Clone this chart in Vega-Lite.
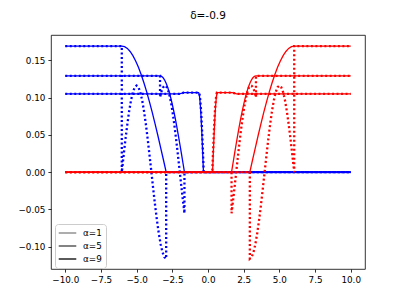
{
"$schema": "https://vega.github.io/schema/vega-lite/v6.json",
"width": 314, "height": 234,
"autosize": {"type": "none"},
"padding": {"left": 51, "top": 35, "right": 40, "bottom": 34},
"background": "white",
"title": {"text": "δ=-0.9", "font": "DejaVu Sans", "fontSize": 10.5, "fontWeight": "normal", "color": "black", "baseline": "alphabetic", "offset": 5.5},
"config": {
  "view": {"stroke": "black", "strokeWidth": 0.8},
  "axis": {"domain": false, "grid": false, "ticks": true, "tickColor": "black", "tickWidth": 0.8, "tickSize": 3.1, "labelFont": "DejaVu Sans", "labelFontSize": 8.8, "labelColor": "black", "labelPadding": 3, "title": null, "labelFlush": false, "labelOverlap": false}
},
"datasets": {
"bs": [
{"g":1,"i":0,"x":-10,"y":0.169},{"g":1,"i":1,"x":-6.04,"y":0.169},{"g":1,"i":2,"x":-5.846,"y":0.1682},{"g":1,"i":3,"x":-5.651,"y":0.1658},{"g":1,"i":4,"x":-5.457,"y":0.1617},{"g":1,"i":5,"x":-5.263,"y":0.1561},{"g":1,"i":6,"x":-5.068,"y":0.149},{"g":1,"i":7,"x":-4.874,"y":0.1405},{"g":1,"i":8,"x":-4.679,"y":0.1306},{"g":1,"i":9,"x":-4.485,"y":0.1195},{"g":1,"i":10,"x":-4.291,"y":0.1072},{"g":1,"i":11,"x":-4.096,"y":0.0939},{"g":1,"i":12,"x":-3.902,"y":0.0797},{"g":1,"i":13,"x":-3.708,"y":0.0647},{"g":1,"i":14,"x":-3.513,"y":0.0491},{"g":1,"i":15,"x":-3.319,"y":0.033},{"g":1,"i":16,"x":-3.124,"y":0.0166},{"g":1,"i":17,"x":-2.93,"y":0},{"g":1,"i":18,"x":10,"y":0},
{"g":2,"i":0,"x":-10,"y":0.129},{"g":2,"i":1,"x":-3.36,"y":0.129},{"g":2,"i":2,"x":-3.253,"y":0.1284},{"g":2,"i":3,"x":-3.146,"y":0.1265},{"g":2,"i":4,"x":-3.039,"y":0.1234},{"g":2,"i":5,"x":-2.933,"y":0.1192},{"g":2,"i":6,"x":-2.826,"y":0.1138},{"g":2,"i":7,"x":-2.719,"y":0.1073},{"g":2,"i":8,"x":-2.612,"y":0.0997},{"g":2,"i":9,"x":-2.505,"y":0.0912},{"g":2,"i":10,"x":-2.398,"y":0.0818},{"g":2,"i":11,"x":-2.291,"y":0.0717},{"g":2,"i":12,"x":-2.184,"y":0.0608},{"g":2,"i":13,"x":-2.078,"y":0.0494},{"g":2,"i":14,"x":-1.971,"y":0.0374},{"g":2,"i":15,"x":-1.864,"y":0.0252},{"g":2,"i":16,"x":-1.757,"y":0.0126},{"g":2,"i":17,"x":-1.65,"y":0},{"g":2,"i":18,"x":10,"y":0},
{"g":3,"i":0,"x":-10,"y":0.105},{"g":3,"i":1,"x":-2.0,"y":0.105},{"g":3,"i":2,"x":-1.7,"y":0.1065},{"g":3,"i":3,"x":-0.66,"y":0.1065},{"g":3,"i":4,"x":-0.6175,"y":0.1045},{"g":3,"i":5,"x":-0.575,"y":0.0984},{"g":3,"i":6,"x":-0.5325,"y":0.0886},{"g":3,"i":7,"x":-0.49,"y":0.0753},{"g":3,"i":8,"x":-0.4475,"y":0.0592},{"g":3,"i":9,"x":-0.405,"y":0.0408},{"g":3,"i":10,"x":-0.3625,"y":0.0208},{"g":3,"i":11,"x":-0.32,"y":0},{"g":3,"i":12,"x":10,"y":0}
],
"bd": [
{"g":1,"i":0,"x":-10,"y":0.169},{"g":1,"i":1,"x":-6.04,"y":0.169},{"g":1,"i":2,"x":-6.04,"y":0},{"g":1,"i":3,"x":-5.91,"y":0.0226},{"g":1,"i":4,"x":-5.781,"y":0.0444},{"g":1,"i":5,"x":-5.651,"y":0.0644},{"g":1,"i":6,"x":-5.522,"y":0.082},{"g":1,"i":7,"x":-5.392,"y":0.0965},{"g":1,"i":8,"x":-5.262,"y":0.1072},{"g":1,"i":9,"x":-5.133,"y":0.1138},{"g":1,"i":10,"x":-5.003,"y":0.116},{"g":1,"i":11,"x":-4.874,"y":0.1138},{"g":1,"i":12,"x":-4.744,"y":0.1072},{"g":1,"i":13,"x":-4.614,"y":0.0965},{"g":1,"i":14,"x":-4.485,"y":0.082},{"g":1,"i":15,"x":-4.355,"y":0.0644},{"g":1,"i":16,"x":-4.226,"y":0.0444},{"g":1,"i":17,"x":-4.096,"y":0.0226},{"g":1,"i":18,"x":-3.966,"y":0},{"g":1,"i":19,"x":-3.837,"y":-0.0226},{"g":1,"i":20,"x":-3.707,"y":-0.0444},{"g":1,"i":21,"x":-3.578,"y":-0.0644},{"g":1,"i":22,"x":-3.448,"y":-0.082},{"g":1,"i":23,"x":-3.318,"y":-0.0965},{"g":1,"i":24,"x":-3.189,"y":-0.1072},{"g":1,"i":25,"x":-3.059,"y":-0.1138},{"g":1,"i":26,"x":-2.93,"y":-0.116},{"g":1,"i":27,"x":-2.93,"y":0},{"g":1,"i":28,"x":10,"y":0},
{"g":2,"i":0,"x":-10,"y":0.129},{"g":2,"i":1,"x":-3.36,"y":0.129},{"g":2,"i":2,"x":-3.36,"y":0.1003},{"g":2,"i":3,"x":-3.26,"y":0.108},{"g":2,"i":4,"x":-3.16,"y":0.1131},{"g":2,"i":5,"x":-3.06,"y":0.1157},{"g":2,"i":6,"x":-2.96,"y":0.1156},{"g":2,"i":7,"x":-2.86,"y":0.1129},{"g":2,"i":8,"x":-2.76,"y":0.1076},{"g":2,"i":9,"x":-2.66,"y":0.0998},{"g":2,"i":10,"x":-2.56,"y":0.0898},{"g":2,"i":11,"x":-2.46,"y":0.0776},{"g":2,"i":12,"x":-2.36,"y":0.0637},{"g":2,"i":13,"x":-2.26,"y":0.0484},{"g":2,"i":14,"x":-2.16,"y":0.0319},{"g":2,"i":15,"x":-2.06,"y":0.0147},{"g":2,"i":16,"x":-1.96,"y":-0.0028},{"g":2,"i":17,"x":-1.86,"y":-0.0203},{"g":2,"i":18,"x":-1.76,"y":-0.0373},{"g":2,"i":19,"x":-1.65,"y":-0.0551},{"g":2,"i":20,"x":-1.65,"y":0},{"g":2,"i":21,"x":10,"y":0},
{"g":3,"i":0,"x":-10,"y":0.105},{"g":3,"i":1,"x":-2.0,"y":0.105},{"g":3,"i":2,"x":-1.7,"y":0.1065},{"g":3,"i":3,"x":-0.62,"y":0.1065},{"g":3,"i":4,"x":-0.58,"y":0.103},{"g":3,"i":5,"x":-0.54,"y":0.096},{"g":3,"i":6,"x":-0.5,"y":0.086},{"g":3,"i":7,"x":-0.46,"y":0.073},{"g":3,"i":8,"x":-0.42,"y":0.057},{"g":3,"i":9,"x":-0.38,"y":0.039},{"g":3,"i":10,"x":-0.34,"y":0.02},{"g":3,"i":11,"x":-0.3,"y":0},{"g":3,"i":12,"x":10,"y":0}
],
"rs": [
{"g":1,"i":0,"x":-10,"y":0},{"g":1,"i":1,"x":2.93,"y":0},{"g":1,"i":2,"x":3.124,"y":0.0166},{"g":1,"i":3,"x":3.319,"y":0.033},{"g":1,"i":4,"x":3.513,"y":0.0491},{"g":1,"i":5,"x":3.708,"y":0.0647},{"g":1,"i":6,"x":3.902,"y":0.0797},{"g":1,"i":7,"x":4.096,"y":0.0939},{"g":1,"i":8,"x":4.291,"y":0.1072},{"g":1,"i":9,"x":4.485,"y":0.1195},{"g":1,"i":10,"x":4.679,"y":0.1306},{"g":1,"i":11,"x":4.874,"y":0.1405},{"g":1,"i":12,"x":5.068,"y":0.149},{"g":1,"i":13,"x":5.263,"y":0.1561},{"g":1,"i":14,"x":5.457,"y":0.1617},{"g":1,"i":15,"x":5.651,"y":0.1658},{"g":1,"i":16,"x":5.846,"y":0.1682},{"g":1,"i":17,"x":6.04,"y":0.169},{"g":1,"i":18,"x":10,"y":0.169},
{"g":2,"i":0,"x":-10,"y":0},{"g":2,"i":1,"x":1.65,"y":0},{"g":2,"i":2,"x":1.757,"y":0.0126},{"g":2,"i":3,"x":1.864,"y":0.0252},{"g":2,"i":4,"x":1.971,"y":0.0374},{"g":2,"i":5,"x":2.078,"y":0.0494},{"g":2,"i":6,"x":2.184,"y":0.0608},{"g":2,"i":7,"x":2.291,"y":0.0717},{"g":2,"i":8,"x":2.398,"y":0.0818},{"g":2,"i":9,"x":2.505,"y":0.0912},{"g":2,"i":10,"x":2.612,"y":0.0997},{"g":2,"i":11,"x":2.719,"y":0.1073},{"g":2,"i":12,"x":2.826,"y":0.1138},{"g":2,"i":13,"x":2.933,"y":0.1192},{"g":2,"i":14,"x":3.039,"y":0.1234},{"g":2,"i":15,"x":3.146,"y":0.1265},{"g":2,"i":16,"x":3.253,"y":0.1284},{"g":2,"i":17,"x":3.36,"y":0.129},{"g":2,"i":18,"x":10,"y":0.129},
{"g":3,"i":0,"x":-10,"y":0},{"g":3,"i":1,"x":0.32,"y":0},{"g":3,"i":2,"x":0.3625,"y":0.0208},{"g":3,"i":3,"x":0.405,"y":0.0408},{"g":3,"i":4,"x":0.4475,"y":0.0592},{"g":3,"i":5,"x":0.49,"y":0.0753},{"g":3,"i":6,"x":0.5325,"y":0.0886},{"g":3,"i":7,"x":0.575,"y":0.0984},{"g":3,"i":8,"x":0.6175,"y":0.1045},{"g":3,"i":9,"x":0.66,"y":0.1065},{"g":3,"i":10,"x":1.7,"y":0.1065},{"g":3,"i":11,"x":2.0,"y":0.105},{"g":3,"i":12,"x":10,"y":0.105}
],
"rd": [
{"g":1,"i":0,"x":-10,"y":0},{"g":1,"i":1,"x":2.93,"y":0},{"g":1,"i":2,"x":2.93,"y":-0.116},{"g":1,"i":3,"x":3.059,"y":-0.1138},{"g":1,"i":4,"x":3.189,"y":-0.1072},{"g":1,"i":5,"x":3.318,"y":-0.0965},{"g":1,"i":6,"x":3.448,"y":-0.082},{"g":1,"i":7,"x":3.578,"y":-0.0644},{"g":1,"i":8,"x":3.707,"y":-0.0444},{"g":1,"i":9,"x":3.837,"y":-0.0226},{"g":1,"i":10,"x":3.966,"y":0},{"g":1,"i":11,"x":4.096,"y":0.0226},{"g":1,"i":12,"x":4.226,"y":0.0444},{"g":1,"i":13,"x":4.355,"y":0.0644},{"g":1,"i":14,"x":4.485,"y":0.082},{"g":1,"i":15,"x":4.614,"y":0.0965},{"g":1,"i":16,"x":4.744,"y":0.1072},{"g":1,"i":17,"x":4.874,"y":0.1138},{"g":1,"i":18,"x":5.003,"y":0.116},{"g":1,"i":19,"x":5.133,"y":0.1138},{"g":1,"i":20,"x":5.262,"y":0.1072},{"g":1,"i":21,"x":5.392,"y":0.0965},{"g":1,"i":22,"x":5.522,"y":0.082},{"g":1,"i":23,"x":5.651,"y":0.0644},{"g":1,"i":24,"x":5.781,"y":0.0444},{"g":1,"i":25,"x":5.91,"y":0.0226},{"g":1,"i":26,"x":6.04,"y":0},{"g":1,"i":27,"x":6.04,"y":0.169},{"g":1,"i":28,"x":10,"y":0.169},
{"g":2,"i":0,"x":-10,"y":0},{"g":2,"i":1,"x":1.65,"y":0},{"g":2,"i":2,"x":1.65,"y":-0.0551},{"g":2,"i":3,"x":1.76,"y":-0.0373},{"g":2,"i":4,"x":1.86,"y":-0.0203},{"g":2,"i":5,"x":1.96,"y":-0.0028},{"g":2,"i":6,"x":2.06,"y":0.0147},{"g":2,"i":7,"x":2.16,"y":0.0319},{"g":2,"i":8,"x":2.26,"y":0.0484},{"g":2,"i":9,"x":2.36,"y":0.0637},{"g":2,"i":10,"x":2.46,"y":0.0776},{"g":2,"i":11,"x":2.56,"y":0.0898},{"g":2,"i":12,"x":2.66,"y":0.0998},{"g":2,"i":13,"x":2.76,"y":0.1076},{"g":2,"i":14,"x":2.86,"y":0.1129},{"g":2,"i":15,"x":2.96,"y":0.1156},{"g":2,"i":16,"x":3.06,"y":0.1157},{"g":2,"i":17,"x":3.16,"y":0.1131},{"g":2,"i":18,"x":3.26,"y":0.108},{"g":2,"i":19,"x":3.36,"y":0.1003},{"g":2,"i":20,"x":3.36,"y":0.129},{"g":2,"i":21,"x":10,"y":0.129},
{"g":3,"i":0,"x":-10,"y":0},{"g":3,"i":1,"x":0.3,"y":0},{"g":3,"i":2,"x":0.34,"y":0.02},{"g":3,"i":3,"x":0.38,"y":0.039},{"g":3,"i":4,"x":0.42,"y":0.057},{"g":3,"i":5,"x":0.46,"y":0.073},{"g":3,"i":6,"x":0.5,"y":0.086},{"g":3,"i":7,"x":0.54,"y":0.096},{"g":3,"i":8,"x":0.58,"y":0.103},{"g":3,"i":9,"x":0.62,"y":0.1065},{"g":3,"i":10,"x":1.7,"y":0.1065},{"g":3,"i":11,"x":2.0,"y":0.105},{"g":3,"i":12,"x":10,"y":0.105}
],
"lg": [
{"g":"α=1","i":0,"x":20,"y":0},{"g":"α=1","i":1,"x":21,"y":0},
{"g":"α=5","i":0,"x":20,"y":0},{"g":"α=5","i":1,"x":21,"y":0},
{"g":"α=9","i":0,"x":20,"y":0},{"g":"α=9","i":1,"x":21,"y":0}
]
},
"encoding": {
  "x": {"field": "x", "type": "quantitative", "scale": {"domain": [-11, 11], "nice": false, "zero": false}, "axis": {"values": [-10, -7.5, -5, -2.5, 0, 2.5, 5, 7.5, 10], "format": ".1f"}},
  "y": {"field": "y", "type": "quantitative", "scale": {"domain": [-0.1298, 0.1838], "nice": false, "zero": false}, "axis": {"values": [-0.1, -0.05, 0, 0.05, 0.1, 0.15], "format": ".2f"}},
  "order": {"field": "i", "type": "quantitative"},
  "detail": {"field": "g", "type": "nominal"}
},
"layer": [
  {"data": {"name": "bs"}, "mark": {"type": "line", "color": "#0000ff", "strokeWidth": 1.3, "clip": true}},
  {"data": {"name": "bd"}, "mark": {"type": "line", "color": "#0000ff", "strokeWidth": 2.3, "strokeDash": [2, 2.5], "strokeCap": "butt", "clip": true}},
  {"data": {"name": "rs"}, "mark": {"type": "line", "color": "#ff0000", "strokeWidth": 1.3, "clip": true}},
  {"data": {"name": "rd"}, "mark": {"type": "line", "color": "#ff0000", "strokeWidth": 2.3, "strokeDash": [2, 2.5], "strokeCap": "butt", "clip": true}},
  {"data": {"name": "lg"}, "mark": {"type": "line", "strokeWidth": 1.3, "clip": true},
   "encoding": {"color": {"field": "g", "type": "nominal",
     "scale": {"domain": ["α=1", "α=5", "α=9"], "range": ["#808080", "#404040", "#000000"]},
     "legend": {"title": null, "orient": "none", "legendX": 4, "legendY": 189, "fillColor": "white", "strokeColor": "#cccccc", "cornerRadius": 3, "padding": 3.5, "symbolType": "M-2,0H2", "symbolSize": 77, "symbolOffset": 3.5, "symbolStrokeWidth": 1.3, "labelFont": "DejaVu Sans", "labelFontSize": 8.8, "labelColor": "black", "rowPadding": 2, "labelOffset": 10}}}}
]
}
